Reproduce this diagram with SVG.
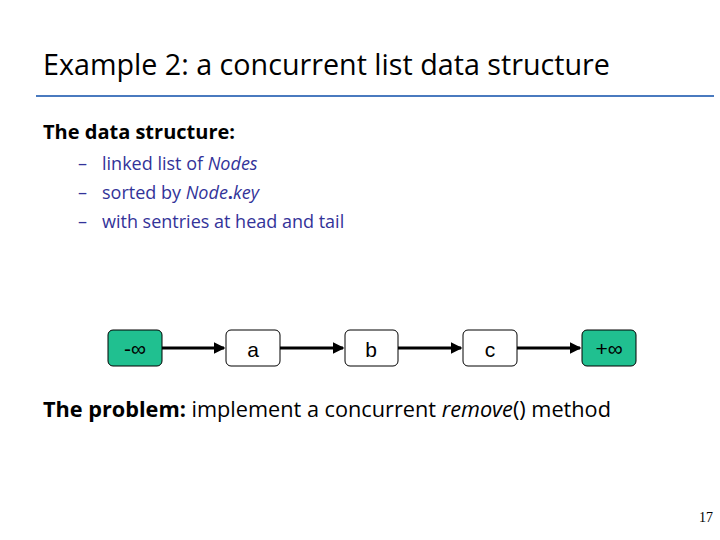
<svg xmlns="http://www.w3.org/2000/svg" width="720" height="540" viewBox="0 0 720 540">
<defs>
<style>
.t{font-family:"Open Sans","Liberation Sans",sans-serif}
.b{font-family:"Open Sans","Liberation Sans",sans-serif;fill:#333399;font-size:18px}
.n{fill:#fff;stroke:#000;stroke-width:1}
.s{fill:#20c090;stroke:#000;stroke-width:1}
.l{font-family:"Liberation Sans",sans-serif;font-size:21px;text-anchor:middle}
.c{stroke:#000;stroke-width:3;marker-end:url(#ah)}
</style>
<marker id="ah" markerWidth="4" markerHeight="4" refX="3.5" refY="2" orient="auto"><path d="M0,0 L4,2 L0,4 z"/></marker>
</defs>
<rect width="720" height="540" fill="#fff"/>
<text class="t" x="43" y="75" font-size="28.7">Example 2: a concurrent list data structure</text>
<line x1="36" y1="96" x2="714" y2="96" stroke="#4a7abf" stroke-width="2"/>
<text class="t" x="43" y="139" font-size="20" font-weight="bold">The data structure:</text>
<text class="b" x="78" y="170">–</text><text class="b" x="102" y="170">linked list of <tspan font-style="italic">Nodes</tspan></text>
<text class="b" x="78" y="199">–</text><text class="b" x="102" y="199">sorted by <tspan font-style="italic">Node</tspan><tspan font-weight="bold">.</tspan><tspan font-style="italic">key</tspan></text>
<text class="b" x="78" y="228">–</text><text class="b" x="102" y="228">with sentries at head and tail</text>
<g id="connectors">
<line class="c" x1="162" y1="348" x2="224" y2="348"/>
<line class="c" x1="280" y1="348" x2="343" y2="348"/>
<line class="c" x1="398" y1="348" x2="461" y2="348"/>
<line class="c" x1="517" y1="348" x2="580" y2="348"/>
</g>
<g id="head"><rect class="s" x="108" y="330" width="54" height="36" rx="5"/><text class="l" x="135" y="356" font-size="24">-∞</text></g>
<g id="a"><rect class="n" x="226" y="330" width="54" height="36" rx="5"/><text class="l" x="253" y="357">a</text></g>
<g id="b"><rect class="n" x="345" y="330" width="53" height="36" rx="5"/><text class="l" x="371" y="357">b</text></g>
<g id="c"><rect class="n" x="463" y="330" width="54" height="36" rx="5"/><text class="l" x="490" y="357">c</text></g>
<g id="tail"><rect class="s" x="582" y="330" width="54" height="36" rx="5"/><text class="l" x="609" y="356" font-size="24">+∞</text></g>
<text class="t" x="43" y="417" font-size="21.7"><tspan font-weight="bold">The problem:</tspan> implement a concurrent <tspan font-style="italic">remove</tspan>() method</text>
<text x="713" y="522" font-family="Liberation Serif,serif" font-size="14" text-anchor="end">17</text>
</svg>
